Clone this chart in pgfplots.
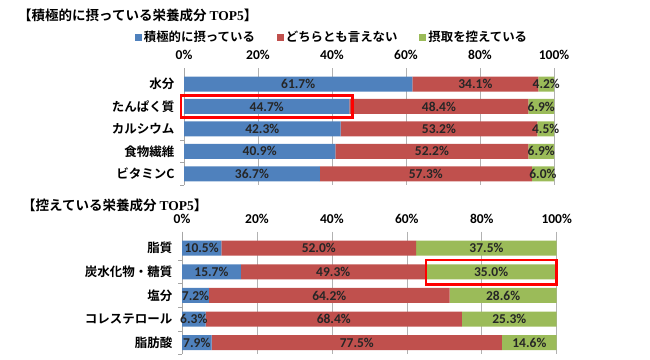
\documentclass[border=0pt]{standalone}
\usepackage{pgfplots}
\pgfplotsset{compat=1.18}
\usepackage{pgfplotstable}
\usepackage{fontspec}
\setmainfont{Carlito}
\newfontfamily\jp{Noto Sans CJK JP}[BoldFont={Noto Sans CJK JP Bold}]
\newfontfamily\serif{Liberation Serif}
\definecolor{cblue}{RGB}{79,129,189}
\definecolor{cred}{RGB}{192,80,77}
\definecolor{cgreen}{RGB}{155,187,89}

\pgfplotstableread{
y a b c
1 61.7 34.1 4.2
2 44.7 48.4 6.9
3 42.3 53.2 4.5
4 40.9 52.2 6.9
5 36.7 57.3 6.0
}\topdata
\pgfplotstableread{
y a b c
1 10.5 52.0 37.5
2 15.7 49.3 35.0
3 7.2 64.2 28.6
4 6.3 68.4 25.3
5 7.9 77.5 14.6
}\botdata

\pgfplotsset{
  geom/.style={scale only axis, xmin=0, xmax=100, ymin=0.3, ymax=5.5, y dir=reverse, clip=false},
  mystyle/.style={
    geom, xbar stacked, bar width=15pt,
    /pgf/number format/assume math mode=true,
    axis x line*=top, axis y line*=left,
    axis line style={-},
    x axis line style={draw=none},
    y axis line style={draw=gray!70, line width=0.6pt},
    xtick={0,20,...,100},
    xticklabel={\pgfmathprintnumber{\tick}\%},
    xticklabel style={font=\bfseries\fontsize{13.5}{15}\selectfont, yshift=5pt},
    xmajorgrids, grid style={gray!60, line width=0.6pt},
    ytick={1,...,5},
    major tick length=0pt,
    yticklabel style={font=\jp\bfseries\fontsize{12.5}{14}\selectfont, xshift=-6pt},
    extra y ticks={1.5,2.5,3.5,4.5,5.5},
    extra y tick style={major tick length=4pt, tick align=outside, yticklabel={}, grid=none,
       tick style={gray!70, line width=0.6pt}},
  },
  lblaxis/.style={geom, hide axis},
  lbl/.style={draw=none, mark=none, 
    point meta=explicit, nodes near coords={\pgfmathprintnumber[fixed,fixed zerofill,precision=1,assume math mode=true]{\pgfplotspointmeta}\%},
    every node near coord/.append style={anchor=center, font=\bfseries\fontsize{13.5}{15}\selectfont, text=black!85, inner sep=0pt}},
}

\begin{document}
\begin{tikzpicture}
\path[use as bounding box] (0pt,0pt) rectangle (650pt,-359pt);

\node[anchor=west, inner sep=0pt] at (18pt,-15pt) {\jp\bfseries\fontsize{13.5}{15}\selectfont 【積極的に摂っている栄養成分 {\serif\bfseries TOP5}】};
\node[anchor=west, inner sep=0pt] at (22pt,-205pt) {\jp\bfseries\fontsize{13.5}{15}\selectfont 【控えている栄養成分 {\serif\bfseries TOP5}】};

\begin{axis}[mystyle, at={(184pt,-185pt)}, anchor=south west, width=370pt, height=116.7pt,
  yticklabels={水分,たんぱく質,カルシウム,食物繊維,ビタミンC},
  legend style={draw=none, fill=none, at={(0.4,1)}, anchor=center, yshift=31pt,
    legend columns=3, font=\jp\bfseries\fontsize{12.4}{14}\selectfont,
    /tikz/every even column/.style={column sep=20pt}},
  legend image code/.code={\fill[#1] (0pt,-3.5pt) rectangle (7pt,3.5pt);},
]
\addplot[fill=cblue, draw=none] table[x=a, y=y] {\topdata};
\addplot[fill=cred, draw=none] table[x=b, y=y] {\topdata};
\addplot[fill=cgreen, draw=none] table[x=c, y=y] {\topdata};
\legend{積極的に摂っている,どちらとも言えない,摂取を控えている}
\end{axis}
\begin{axis}[lblaxis, at={(184pt,-185pt)}, anchor=south west, width=370pt, height=116.7pt]
\addplot[lbl] table[x expr=\thisrow{a}/2, y=y, meta=a] {\topdata};
\addplot[lbl] table[x expr=\thisrow{a}+\thisrow{b}/2, y=y, meta=b] {\topdata};
\addplot[lbl] table[x expr=\thisrow{a}+\thisrow{b}+\thisrow{c}/2, y=y, meta=c] {\topdata};
\draw[red, line width=2.8pt] (axis cs:-0.8,1.5) rectangle (axis cs:45.5,2.5);
\end{axis}

\begin{axis}[mystyle, at={(182pt,-354.4pt)}, anchor=south west, width=374.7pt, height=122.7pt,
  yticklabels={脂質,炭水化物・糖質,塩分,コレステロール,脂肪酸},
]
\addplot[fill=cblue, draw=none] table[x=a, y=y] {\botdata};
\addplot[fill=cred, draw=none] table[x=b, y=y] {\botdata};
\addplot[fill=cgreen, draw=none] table[x=c, y=y] {\botdata};
\end{axis}
\begin{axis}[lblaxis, at={(182pt,-354.4pt)}, anchor=south west, width=374.7pt, height=122.7pt]
\addplot[lbl] table[x expr=\thisrow{a}/2, y=y, meta=a] {\botdata};
\addplot[lbl] table[x expr=\thisrow{a}+\thisrow{b}/2, y=y, meta=b] {\botdata};
\addplot[lbl] table[x expr=\thisrow{a}+\thisrow{b}+\thisrow{c}/2, y=y, meta=c] {\botdata};
\draw[red, line width=2.8pt] (axis cs:65.1,1.5) rectangle (axis cs:99.9,2.53);
\end{axis}
\end{tikzpicture}
\end{document}
